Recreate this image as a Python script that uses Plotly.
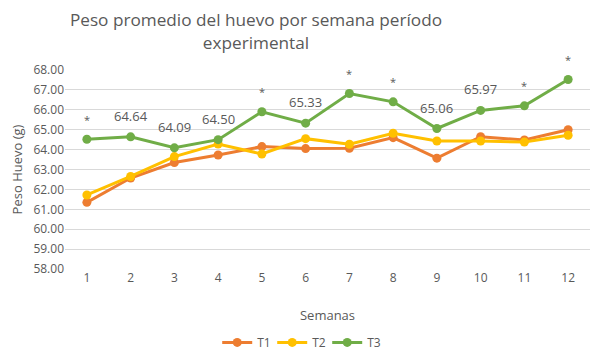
import plotly.graph_objects as go

semanas = [1, 2, 3, 4, 5, 6, 7, 8, 9, 10, 11, 12]
t1 = [61.35, 62.57, 63.35, 63.73, 64.15, 64.05, 64.07, 64.60, 63.57, 64.65, 64.48, 65.00]
t2 = [61.72, 62.65, 63.65, 64.28, 63.78, 64.55, 64.27, 64.82, 64.43, 64.43, 64.38, 64.72]
t3 = [64.52, 64.64, 64.09, 64.50, 65.90, 65.33, 66.82, 66.40, 65.06, 65.97, 66.20, 67.52]
etiquetas_t3 = ["*", "64.64", "64.09", "64.50", "*", "65.33", "*", "*", "65.06", "65.97", "*", "*"]
y_ticks = [58, 59, 60, 61, 62, 63, 64, 65, 66, 67, 68]

FONT = "Open Sans"
GRAY = "#595959"

fig = go.Figure()
for name, vals, color in [("T1", t1, "#ED7D31"), ("T2", t2, "#FFC000"), ("T3", t3, "#70AD47")]:
    fig.add_trace(go.Scatter(
        x=semanas, y=vals, name=name, mode="lines+markers",
        line=dict(color=color, width=3), marker=dict(color=color, size=9),
    ))

for s, v, lab in zip(semanas, t3, etiquetas_t3):
    fig.add_annotation(
        x=s, y=v, text=lab, showarrow=False, yshift=21 if lab != "*" else 20,
        font=dict(family=FONT, size=13 if lab != "*" else 11, color=GRAY),
    )

fig.update_layout(
    width=599, height=355,
    paper_bgcolor="white", plot_bgcolor="white",
    margin=dict(l=57, r=17, t=62, b=94),
    font=dict(family=FONT, color=GRAY, size=12),
    title=dict(text="Peso promedio del huevo por semana período<br>experimental",
               xref="container", x=0.414, xanchor="center",
               yref="container", y=0.948, yanchor="middle",
               font=dict(family=FONT, size=17.2, color=GRAY)),
    showlegend=True,
    legend=dict(orientation="h", xref="container", x=0.487, xanchor="center",
                yref="container", y=0.058, yanchor="middle",
                font=dict(size=12, color=GRAY), itemwidth=30,
                entrywidth=10, entrywidthmode="pixels"),
)
fig.update_xaxes(
    range=[0.5, 12.5], tickvals=semanas, automargin=False,
    showgrid=False, zeroline=False, showline=False, ticks="",
    tickfont=dict(size=12, color=GRAY),
    title=dict(text="Semanas", font=dict(size=13, color=GRAY), standoff=25),
)
fig.update_yaxes(
    range=[58, 68], tickvals=y_ticks, ticktext=[f"{v:.2f}" for v in y_ticks],
    automargin=False,
    showgrid=True, gridcolor="#D9D9D9", gridwidth=1, zeroline=False, showline=False,
    tickfont=dict(size=12, color=GRAY), ticks="",
    title=dict(text="Peso Huevo (g)", font=dict(size=13, color=GRAY), standoff=13),
)

fig.write_html("out.html")
